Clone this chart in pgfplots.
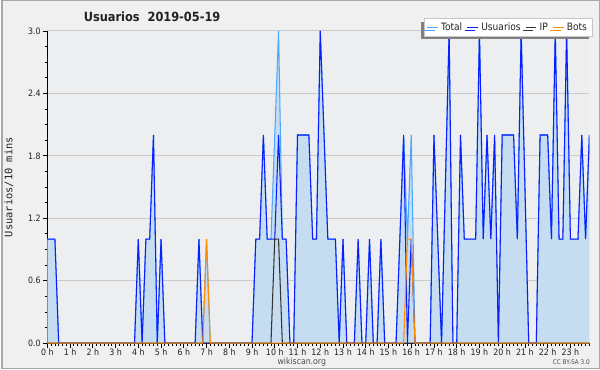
\documentclass[border=0pt]{standalone}
\usepackage{fontspec}
\setmainfont{DejaVu Sans Condensed}
\newfontfamily\monofont{DejaVu Sans Mono}
\usepackage{pgfplots}
\usepackage{pgfplotstable}
\pgfplotsset{compat=1.18}
\usetikzlibrary{shadows}

\definecolor{bgout}{HTML}{F0F0F0}
\definecolor{bgplot}{HTML}{EDEEF0}
\definecolor{bordercol}{HTML}{A8A8A8}
\definecolor{gridcol}{HTML}{CACACA}
\definecolor{fillcol}{HTML}{C6DCF0}
\definecolor{totalcol}{HTML}{4DA6FF}
\definecolor{usercol}{HTML}{0A1EFF}
\definecolor{ipcol}{HTML}{333333}
\definecolor{botcol}{HTML}{FF8C00}
\definecolor{txtcol}{HTML}{222222}

\pgfplotstableread{
i T U IP B
0 1 1 0 0
1 1 1 0 0
2 1 1 0 0
3 0 0 0 0
4 0 0 0 0
5 0 0 0 0
6 0 0 0 0
7 0 0 0 0
8 0 0 0 0
9 0 0 0 0
10 0 0 0 0
11 0 0 0 0
12 0 0 0 0
13 0 0 0 0
14 0 0 0 0
15 0 0 0 0
16 0 0 0 0
17 0 0 0 0
18 0 0 0 0
19 0 0 0 0
20 0 0 0 0
21 0 0 0 0
22 0 0 0 0
23 0 0 0 0
24 1 1 0 0
25 0 0 0 0
26 1 1 0 0
27 1 1 0 0
28 2 2 0 0
29 0 0 0 0
30 1 1 0 0
31 0 0 0 0
32 0 0 0 0
33 0 0 0 0
34 0 0 0 0
35 0 0 0 0
36 0 0 0 0
37 0 0 0 0
38 0 0 0 0
39 0 0 0 0
40 1 1 0 0
41 0 0 0 0
42 1 0 0 1
43 0 0 0 0
44 0 0 0 0
45 0 0 0 0
46 0 0 0 0
47 0 0 0 0
48 0 0 0 0
49 0 0 0 0
50 0 0 0 0
51 0 0 0 0
52 0 0 0 0
53 0 0 0 0
54 0 0 0 0
55 1 1 0 0
56 1 1 0 0
57 2 2 0 0
58 1 1 0 0
59 1 1 0 0
60 2 1 1 0
61 3 2 1 0
62 1 1 0 0
63 1 1 0 0
64 0 0 0 0
65 0 0 0 0
66 2 2 0 0
67 2 2 0 0
68 2 2 0 0
69 2 2 0 0
70 1 1 0 0
71 1 1 0 0
72 3 3 0 0
73 2 2 0 0
74 1 1 0 0
75 1 1 0 0
76 1 1 0 0
77 0 0 0 0
78 1 1 0 0
79 0 0 0 0
80 0 0 0 0
81 0 0 0 0
82 1 1 0 0
83 0 0 0 0
84 0 0 0 0
85 1 1 0 0
86 0 0 0 0
87 0 0 0 0
88 1 1 0 0
89 0 0 0 0
90 0 0 0 0
91 0 0 0 0
92 0 0 0 0
93 1 1 0 0
94 2 2 0 0
95 1 0 0 1
96 2 1 0 1
97 0 0 0 0
98 0 0 0 0
99 0 0 0 0
100 0 0 0 0
101 0 0 0 0
102 2 2 0 0
103 1 1 0 0
104 0 0 0 0
105 1.5 1.5 0 0
106 3 3 0 0
107 0 0 0 0
108 0 0 0 0
109 2 2 0 0
110 1 1 0 0
111 1 1 0 0
112 1 1 0 0
113 1 1 0 0
114 3 3 0 0
115 1 1 0 0
116 2 2 0 0
117 1 1 0 0
118 2 2 0 0
119 0 0 0 0
120 2 2 0 0
121 2 2 0 0
122 2 2 0 0
123 2 2 0 0
124 1 1 0 0
125 3 3 0 0
126 1.5 1.5 0 0
127 0 0 0 0
128 0 0 0 0
129 0 0 0 0
130 2 2 0 0
131 2 2 0 0
132 2 2 0 0
133 1 1 0 0
134 3 3 0 0
135 1 1 0 0
136 1 1 0 0
137 3 3 0 0
138 1 1 0 0
139 1 1 0 0
140 1 1 0 0
141 2 2 0 0
142 1 1 0 0
143 2 2 0 0
}\data

\begin{document}
\begin{tikzpicture}
\fill[bgout] (0,0) rectangle (450pt,277.5pt);
\draw[bordercol, line width=0.9pt] (0.45pt,0.45pt) rectangle (449.55pt,277.05pt);
\begin{axis}[
  at={(34.5pt,19.5pt)}, anchor=south west,
  scale only axis, width=407.5pt, height=234.75pt,
  xmin=0, xmax=143, ymin=0, ymax=3,
  axis background/.style={fill=bgplot},
  axis x line*=bottom, axis y line*=left,
  axis line style={-, black, line width=0.8pt},
  tick align=outside, major tick length=3.5pt, minor tick length=2pt,
  every tick/.style={black, line width=0.6pt},
  xtick={0,6,12,18,24,30,36,42,48,54,60,66,72,78,84,90,96,102,108,114,120,126,132,138},
  xticklabels={0 h,1 h,2 h,3 h,4 h,5 h,6 h,7 h,8 h,9 h,10 h,11 h,12 h,13 h,14 h,15 h,16 h,17 h,18 h,19 h,20 h,21 h,22 h,23 h},
  minor xtick={0,1,...,143},
  ytick={0,0.6,1.2,1.8,2.4,3.0},
  yticklabels={0.0,0.6,1.2,1.8,2.4,3.0},
  minor y tick num=3,
  ymajorgrids, grid style={gridcol, line width=0.75pt},
  /pgf/number format/assume math mode=true,
  ticklabel style={font=\fontsize{6.6}{7.5}\selectfont, text=txtcol},
  xticklabel style={inner sep=0.6pt},
  yticklabel style={inner sep=1.3pt},
  ylabel={Usuarios/10 mins},
  ylabel style={font=\monofont\fontsize{7.8}{9}\selectfont, text=txtcol, at={(axis description cs:-0.071,0.5)}, anchor=center},
  legend style={at={(rel axis cs:1.006,1.04)}, anchor=north east,
    legend columns=4, draw=gray!45, fill=white, line width=0.6pt,
    font=\fontsize{7.6}{8.5}\selectfont, text=txtcol,
    inner xsep=2pt, inner ysep=0.8pt,
    drop shadow={shadow xshift=-2.2pt, shadow yshift=-2.2pt, fill=gray, opacity=1},
    /tikz/every even column/.append style={column sep=1.5pt}},
  legend image code/.code={\draw[#1, line width=0.8pt] (0pt,0pt) -- (8pt,0pt);},
  legend cell align=left,
  clip=true,
]
\addplot[fill=fillcol, draw=none, forget plot] table[x=i, y=T] {\data} \closedcycle;
\addplot[totalcol, line width=0.8pt] table[x=i, y=T] {\data};
\addlegendentry{Total}
\addplot[usercol, line width=0.8pt] table[x=i, y=U] {\data};
\addlegendentry{Usuarios}
\addplot[ipcol, line width=0.8pt] table[x=i, y=IP] {\data};
\addlegendentry{IP}
\addplot[botcol, line width=0.8pt] table[x=i, y=B] {\data};
\addlegendentry{Bots}
\end{axis}
\node[font=\bfseries\fontsize{9.5}{11}\selectfont, text=txtcol] at (113.25pt,264.75pt) {Usuarios\ \ 2019-05-19};
\node[font=\fontsize{6.5}{8}\selectfont, text=txtcol!80, inner sep=0pt] at (225.75pt,5.4pt) {wikiscan.org};
\node[font=\fontsize{4.8}{6}\selectfont, text=txtcol!80, anchor=east, inner sep=0pt] at (442.5pt,5.4pt) {CC BY-SA 3.0};
\end{tikzpicture}
\end{document}
